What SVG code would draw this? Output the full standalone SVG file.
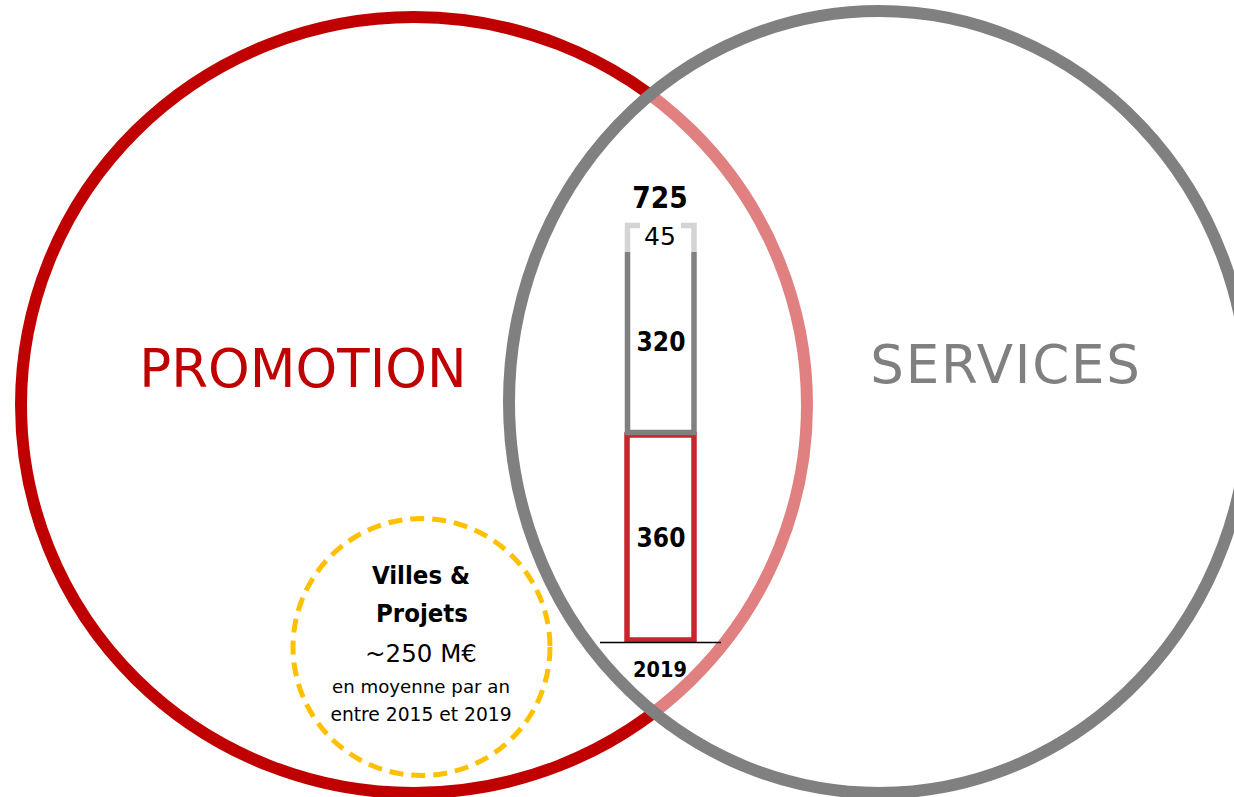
<svg xmlns="http://www.w3.org/2000/svg" width="1234" height="797" viewBox="0 0 1234 797">
<style>
.big{font-family:"DejaVu Sans","Verdana",sans-serif;font-size:53px;text-anchor:middle}
.num{font-family:"DejaVu Sans Condensed","DejaVu Sans",sans-serif;font-weight:bold;text-anchor:middle;fill:#000}
.reg{font-family:"DejaVu Sans",sans-serif;text-anchor:middle;fill:#000}
</style>
<rect width="1234" height="797" fill="#ffffff"/>
<g id="promotion">
<ellipse cx="414" cy="405" rx="393" ry="388" fill="none" stroke="#C00000" stroke-width="12"/>
<text class="big" x="303" y="387" fill="#C00000">PROMOTION</text>
</g>
<g id="services">
<ellipse cx="879" cy="402" rx="370" ry="391" fill="#ffffff" fill-opacity="0.5" stroke="#808080" stroke-width="12"/>
<text class="big" x="1006" y="383" fill="#808080" letter-spacing="1.8">SERVICES</text>
</g>
<g id="bar">
<rect x="627" y="435" width="67" height="205" fill="none" stroke="#C9252F" stroke-width="5.5"/>
<path d="M627.5,252 V432.5 H694 V252" fill="none" stroke="#808080" stroke-width="5.5"/>
<path d="M640,225.5 H627.5 V252 M681,225.5 H694 V252" fill="none" stroke="#D4D4D4" stroke-width="5.5"/>
<line x1="600" y1="642.5" x2="721" y2="642.5" stroke="#000" stroke-width="1.5"/>
<text class="num" x="660" y="208" font-size="29.5">725</text>
<text class="reg" x="660" y="245" font-size="25">45</text>
<text class="num" x="661" y="351" font-size="26">320</text>
<text class="num" x="661" y="547" font-size="26">360</text>
<text class="num" x="660" y="677" font-size="21.5">2019</text>
</g>
<g id="villes-projets">
<circle cx="421.5" cy="647" r="128.5" fill="none" stroke="#FFC000" stroke-width="5" stroke-dasharray="14 8"/>
<text class="num" x="421" y="584" font-size="25.5">Villes &amp;</text>
<text class="num" x="422" y="622" font-size="25.5">Projets</text>
<text class="reg" x="421" y="662" font-size="24.5">~250 M€</text>
<text class="reg" x="421" y="693" font-size="18.2">en moyenne par an</text>
<text class="reg" x="421" y="721" font-size="18.7">entre 2015 et 2019</text>
</g>
</svg>
